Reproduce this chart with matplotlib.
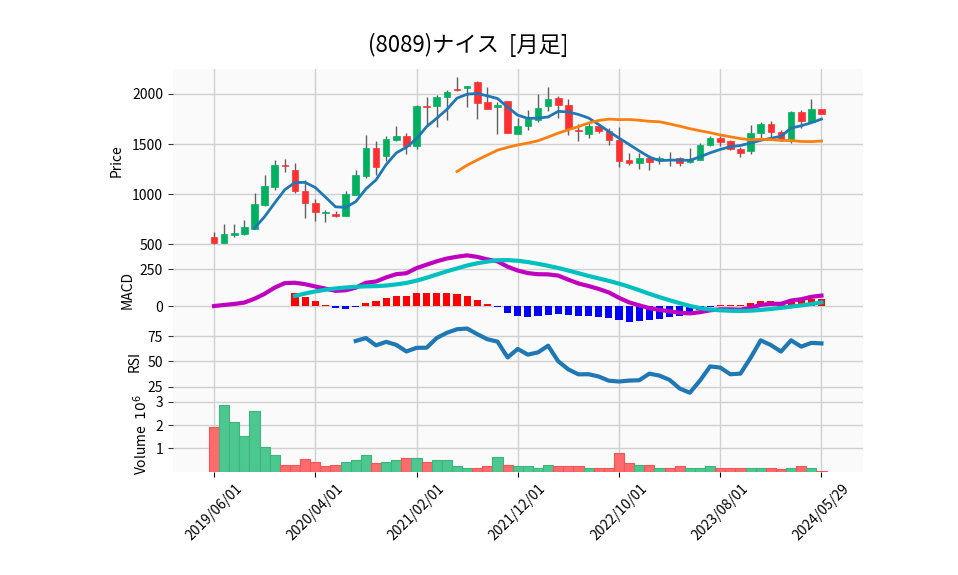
import numpy as np
import pandas as pd
import matplotlib
matplotlib.use('Agg')
import matplotlib.pyplot as plt

plt.rcParams['font.family'] = ['Noto Sans CJK JP', 'DejaVu Sans']

# monthly bars, last one is the latest trading day
dates = list(pd.date_range('2019-06-01', periods=60, freq='MS').strftime('%Y/%m/%d')) + ['2024/05/29']

opens = [570, 517, 597, 607, 653, 887, 1067, 1293, 1243, 1033,
         913, 815, 807, 787, 993, 1177, 1463, 1383, 1543, 1580,
         1477, 1883, 1877, 1967, 2045, 2057, 2120, 1923, 1867, 1930,
         1600, 1677, 1743, 1877, 1960, 1893, 1643, 1603, 1683, 1627,
         1543, 1343, 1307, 1360, 1343, 1340, 1357, 1320, 1343, 1490,
         1563, 1533, 1453, 1433, 1610, 1700, 1623, 1550, 1820, 1717,
         1850]
highs = [627, 700, 700, 740, 1010, 1190, 1343, 1350, 1310, 1137,
         950, 843, 837, 1027, 1237, 1587, 1533, 1583, 1677, 1610,
         1890, 1967, 1993, 2043, 2170, 2083, 2133, 2070, 1917, 1930,
         1760, 1837, 2000, 2070, 1977, 1950, 1700, 1710, 1700, 1660,
         1670, 1410, 1410, 1393, 1377, 1420, 1367, 1460, 1510, 1577,
         1583, 1543, 1467, 1693, 1720, 1733, 1643, 1827, 1840, 1950,
         1850]
lows = [500, 517, 570, 593, 650, 877, 1043, 1223, 1010, 760,
        737, 720, 770, 787, 993, 1160, 1193, 1327, 1527, 1400,
        1450, 1683, 1670, 1743, 2027, 1870, 1750, 1847, 1603, 1607,
        1600, 1637, 1723, 1827, 1760, 1593, 1527, 1557, 1610, 1493,
        1270, 1293, 1250, 1243, 1303, 1277, 1283, 1310, 1337, 1483,
        1483, 1437, 1370, 1400, 1560, 1567, 1527, 1510, 1660, 1710,
        1800]
closes = [510, 603, 617, 673, 903, 1083, 1293, 1277, 1027, 907,
          827, 820, 787, 1000, 1193, 1463, 1267, 1553, 1583, 1477,
          1883, 1873, 1970, 2023, 2040, 2083, 1910, 1847, 1893, 1607,
          1683, 1750, 1860, 1953, 1887, 1650, 1627, 1683, 1627, 1537,
          1327, 1307, 1360, 1320, 1360, 1350, 1310, 1350, 1490, 1563,
          1517, 1450, 1410, 1610, 1700, 1617, 1550, 1820, 1727, 1850,
          1800]
# volume in millions of shares
volumes = [1.91, 2.87, 2.13, 1.52, 2.61, 1.04, 0.70, 0.30, 0.30, 0.52,
           0.39, 0.22, 0.26, 0.43, 0.48, 0.70, 0.35, 0.43, 0.48, 0.57,
           0.57, 0.42, 0.48, 0.48, 0.22, 0.17, 0.17, 0.22, 0.61, 0.30,
           0.22, 0.23, 0.17, 0.26, 0.22, 0.22, 0.22, 0.13, 0.13, 0.17,
           0.78, 0.35, 0.30, 0.26, 0.13, 0.17, 0.22, 0.17, 0.13, 0.22,
           0.13, 0.13, 0.17, 0.17, 0.13, 0.17, 0.09, 0.13, 0.22, 0.17,
           0.01]

df = pd.DataFrame({'Open': opens, 'High': highs, 'Low': lows,
                   'Close': closes, 'Volume': volumes}, index=dates)
x = np.arange(len(df))

# indicators
ma5 = df.Close.rolling(5).mean()
ma25 = df.Close.rolling(25).mean()
ema12 = df.Close.ewm(span=12, adjust=False).mean()
ema26 = df.Close.ewm(span=26, adjust=False).mean()
macd = ema12 - ema26
signal = macd.rolling(9).mean()
hist = macd - signal
diff = df.Close.diff()
gain = diff.clip(lower=0).rolling(14).mean()
loss = (-diff.clip(upper=0)).rolling(14).mean()
rsi = 100 * gain / (gain + loss)

up_c, dn_c = '#00b060', '#fe3032'
vup_c, vdn_c = '#4dc790', '#fd6b6c'

fig = plt.figure(figsize=(9.58, 5.75), dpi=100)
L, W = 0.1803, 0.7205
ax1 = fig.add_axes([L, 0.560, W, 0.320])
ax2 = fig.add_axes([L, 0.433, W, 0.127])
ax3 = fig.add_axes([L, 0.308, W, 0.125])
ax4 = fig.add_axes([L, 0.180, W, 0.128])

for ax in (ax1, ax2, ax3, ax4):
    ax.set_facecolor('#fafafa')
    ax.grid(True, color='#d0d0d0', lw=1)
    ax.set_axisbelow(True)
    for s in ax.spines.values():
        s.set_visible(False)
    ax.set_xlim(-4.08, 64.1)
    ax.set_xticks(range(0, len(df), 10))
    ax.tick_params(axis='y', labelsize=10, length=3.5, color='#333333')
    ax.tick_params(axis='x', length=0, labelbottom=False)

# candles
up = df.Close >= df.Open
ax1.vlines(x, df.Low, df.High, color='#606060', lw=1, zorder=2)
body = (df.Close - df.Open).abs().clip(lower=4)
ax1.bar(x, body, bottom=np.minimum(df.Open, df.Close), width=0.65,
        color=np.where(up, up_c, dn_c), edgecolor=np.where(up, up_c, dn_c), lw=0.5, zorder=3)
ax1.plot(x, ma5, color='#1f77b4', lw=2, zorder=4)
ax1.plot(x, ma25, color='#ff7f0e', lw=2, zorder=4)
ax1.set_ylim(413, 2249)
ax1.set_yticks([500, 1000, 1500, 2000])
ax1.set_ylabel('Price', fontsize=10, labelpad=6)

# macd
ax2.bar(x, hist, width=0.7, color=np.where(hist >= 0, '#ff0000', '#0000ff'), zorder=2)
ax2.plot(x, macd, color='#bf00bf', lw=3, zorder=3)
ax2.plot(x, signal, color='#00bfbf', lw=3, zorder=3)
ax2.set_ylim(-136, 361)
ax2.set_yticks([0, 250])
ax2.set_ylabel('MACD', fontsize=10)

# rsi
ax3.plot(x, rsi, color='#1f77b4', lw=3)
ax3.set_ylim(14.2, 84.8)
ax3.set_yticks([25, 50, 75])
ax3.set_ylabel('RSI', fontsize=10)

# volume, coloured by close vs previous close
vup = df.Close.diff().fillna(df.Close - df.Open) >= 0
ax4.bar(x, df.Volume, width=1.0, color=np.where(vup, vup_c, vdn_c),
        edgecolor=np.where(vup, '#3bb47e', '#f25556'), lw=0.8, zorder=2)
ax4.set_ylim(0, 3.17)
ax4.set_yticks([1, 2, 3])
ax4.set_ylabel('Volume  $10^{6}$', fontsize=10)
ax4.tick_params(axis='x', length=3.5, labelbottom=True, labelsize=10)
ax4.set_xticklabels([dates[i] for i in range(0, len(df), 10)], rotation=45, ha='center')

fig.suptitle('(8089)ナイス  [月足]', fontsize=16, x=0.489, y=0.942)

fig.savefig('out.png', dpi=100)
